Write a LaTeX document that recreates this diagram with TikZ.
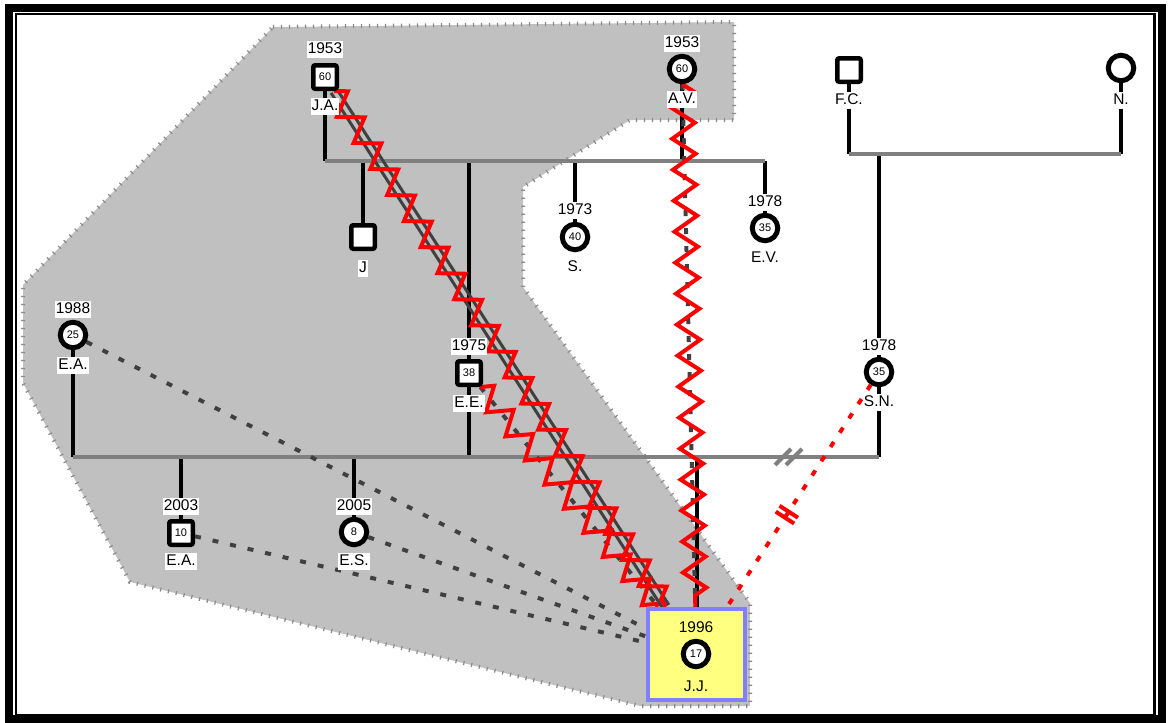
\documentclass[tikz,border=0pt]{standalone}
\usepackage{fontspec}
\setmainfont{Liberation Sans}
\usetikzlibrary{calc,decorations.pathmorphing}
\definecolor{shade}{HTML}{C0C0C0}
\definecolor{tickc}{HTML}{8A8A8A}
\definecolor{mlinec}{HTML}{808080}
\definecolor{relc}{HTML}{404040}
\definecolor{jjfill}{HTML}{FFFF80}
\definecolor{jjdraw}{HTML}{8080FF}
\pgfdeclarelayer{bgl}
\pgfdeclarelayer{lnl}
\pgfsetlayers{bgl,lnl,main}
\begin{document}
\begin{tikzpicture}[x=1pt,y=-1pt,
  male/.style={draw=black,fill=white,line width=4.5pt,rounded corners=2pt,minimum size=23.5pt,inner sep=0pt,font=\fontsize{11}{12}\selectfont},
  female/.style={circle,draw=black,fill=white,line width=5pt,minimum size=25.5pt,inner sep=0pt,font=\fontsize{11}{12}\selectfont},
  lbl/.style={fill=white,inner sep=1pt,text height=12pt,text depth=3pt,font=\fontsize{15.5}{17}\selectfont},
  plainlbl/.style={inner sep=1pt,font=\fontsize{15.5}{17}\selectfont},
  vline/.style={draw=black,line width=4pt},
  mline/.style={draw=mlinec,line width=4pt},
  dotrel/.style={draw=relc,line width=4pt,dash pattern=on 6pt off 12pt},
  closerel/.style={draw=relc,line width=3pt},
  hostile/.style={draw=red,line width=4pt,decorate,decoration={zigzag,segment length=31pt,amplitude=11.5pt}},
  cutoff/.style={draw=red,line width=4pt,dash pattern=on 6pt off 11pt},
  cutbar/.style={draw=red,line width=4pt},
  frameouter/.style={draw=black,line width=8pt},
  frameinner/.style={draw=black,line width=2.5pt},
  region/.style={fill=shade},
  regionedge/.style={draw=tickc,line width=4pt,dash pattern=on 1.2pt off 6.8pt},
  jjbox/.style={draw=jjdraw,fill=jjfill,line width=4.5pt,minimum width=97pt,minimum height=91pt,inner sep=0pt}
]
\useasboundingbox (0,0) rectangle (1171,723);

% frame and shaded region
\begin{pgfonlayer}{bgl}
  \draw[frameouter] (9,8) rectangle (1162,719);
  \draw[frameinner] (16,14) rectangle (1154.5,715.5);
  \fill[region] (273,27) -- (734,22) -- (734,120) -- (630,120) -- (523,187) -- (523,287) -- (750,603) -- (750,706) -- (640,706) -- (130,582) -- (23,383) -- (23,285) -- cycle;
  \draw[regionedge] (273,27) -- (734,22) -- (734,120) -- (630,120) -- (523,187) -- (523,287) -- (750,603) -- (750,706) -- (640,706) -- (130,582) -- (23,383) -- (23,285) -- cycle;
\end{pgfonlayer}

% marriage line levels
\coordinate (m1) at (0,161);
\coordinate (m2) at (0,457);
\coordinate (m3) at (0,154);

% symbols
\node[male]   (JA)   at (325,77)  {60};
\node[female] (AV)   at (682,69)  {60};
\node[male]   (FC)   at (849,70)  {};
\node[female] (N)    at (1121,68) {};
\node[male]   (J)    at (363,237) {};
\node[female] (S)    at (575,237) {40};
\node[female] (EV)   at (765,228) {35};
\node[female] (EAa)  at (73,335)  {25};
\node[male]   (EE)   at (469,373) {38};
\node[female] (SN)   at (879,372) {35};
\node[male]   (EAb)  at (181,533) {10};
\node[female] (ES)   at (354,532) {8};
\node[jjbox]  (JJbox) at (696.5,654.5) {};
\node[female] (JJ)   at (696,654) {17};

% lines
\begin{pgfonlayer}{lnl}
  % verticals
  \draw[vline] (JA) -- (JA |- m1);
  \draw[vline] (AV) -- (AV |- m1);
  \draw[vline] (J) -- (J |- m1);
  \draw[vline] (EE) -- (EE |- m1);
  \draw[vline] (S) -- (S |- m1);
  \draw[vline] (EV) -- (EV |- m1);
  \draw[vline] (FC) -- (FC |- m3);
  \draw[vline] (N) -- (N |- m3);
  \draw[vline] (SN) -- (SN |- m3);
  \draw[vline] (EE) -- (EE |- m2);
  \draw[vline] (EAa) -- (EAa |- m2);
  \draw[vline] (SN) -- (SN |- m2);
  \draw[vline] (EAb) -- (EAb |- m2);
  \draw[vline] (ES) -- (ES |- m2);
  \draw[vline] (JJbox.north) -- (JJbox.north |- m2);
  % marriage lines
  \draw[mline] (JA |- m1) -- (EV |- m1);
  \draw[mline] (FC |- m3) -- (N |- m3);
  \draw[mline] (EAa |- m2) -- (SN |- m2);
  % divorce marks
  \coordinate (dv1a) at (775,465); \coordinate (dv1b) at (791,449);
  \coordinate (dv2a) at (786,465); \coordinate (dv2b) at (802,449);
  \draw[mline] (dv1a) -- (dv1b);
  \draw[mline] (dv2a) -- (dv2b);
  % relations
  \draw[dotrel] (EAa) -- (JJbox);
  \draw[dotrel] (EAb) -- (JJbox);
  \draw[dotrel] (ES) -- (JJbox);
  \draw[dotrel] (AV) -- (JJbox);
  \draw[dotrel] (EE) -- (JJbox);
  \path (JA) -- (JJbox) coordinate[pos=0] (ja0) coordinate[pos=1] (ja1);
  \draw[closerel] ($(ja0)+(2.9,-1.9)$) -- ($(ja1)+(2.9,-1.9)$);
  \draw[closerel] ($(ja0)+(-2.9,1.9)$) -- ($(ja1)+(-2.9,1.9)$);
  \draw[hostile] (JA) -- (JJbox);
  \draw[hostile] (AV) -- (JJbox);
  \draw[hostile] (EE) -- (JJbox);
  \draw[cutoff] (SN) -- (JJbox);
  \coordinate (cm) at ($(SN.center)!0.505!(JJbox.center)$);
  \coordinate (cp1) at ($(cm)!-3.5pt!(JJbox.center)$);
  \coordinate (cp2) at ($(cm)!3.5pt!(JJbox.center)$);
  \draw[cutbar] ($(cp1)!11pt!90:(JJbox.center)$) -- ($(cp1)!11pt!-90:(JJbox.center)$);
  \draw[cutbar] ($(cp2)!11pt!90:(JJbox.center)$) -- ($(cp2)!11pt!-90:(JJbox.center)$);
\end{pgfonlayer}

% labels
\node[lbl] (JAy) at (325,49) {1953};
\node[lbl] (JAn) at (325,106) {J.A.};
\node[lbl] (AVy) at (682,43) {1953};
\node[lbl] (AVn) at (682,99) {A.V.};
\node[lbl] (FCn) at (849,100) {F.C.};
\node[lbl] (Nn)  at (1121,100) {N.};
\node[lbl] (Jn)  at (363,268) {J};
\node[lbl] (Sy)  at (575,210) {1973};
\node[lbl] (Sn)  at (575,267) {S.};
\node[lbl] (EVy) at (765,202) {1978};
\node[lbl] (EVn) at (765,258) {E.V.};
\node[lbl] (EAay) at (73,309) {1988};
\node[lbl] (EAan) at (73,365) {E.A.};
\node[lbl] (EEy) at (469,346) {1975};
\node[lbl] (EEn) at (469,403) {E.E.};
\node[lbl] (SNy) at (879,346) {1978};
\node[lbl] (SNn) at (879,402) {S.N.};
\node[lbl] (EAby) at (181,506) {2003};
\node[lbl] (EAbn) at (181,561) {E.A.};
\node[lbl] (ESy) at (354,506) {2005};
\node[lbl] (ESn) at (354,561) {E.S.};
\node[plainlbl] (JJy) at (696,627) {1996};
\node[plainlbl] (JJn) at (696,686) {J.J.};
\end{tikzpicture}
\end{document}
